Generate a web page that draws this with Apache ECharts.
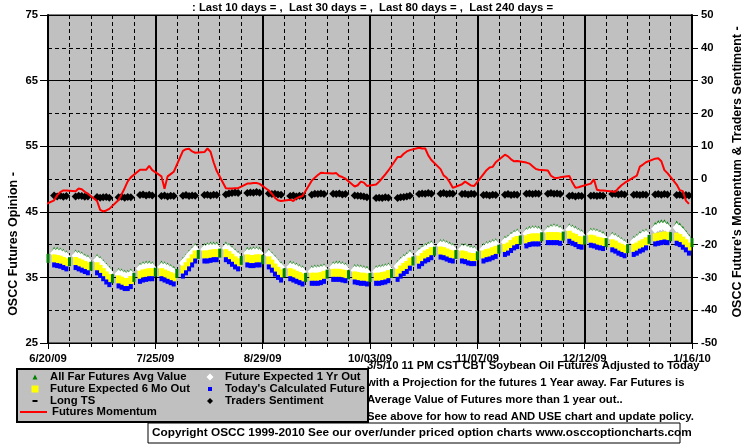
<!DOCTYPE html>
<html>
<head>
<meta charset="utf-8">
<script src="https://cdn.jsdelivr.net/npm/echarts/dist/echarts.min.js"></script>
<style>
html,body{margin:0;padding:0;background:#fff;}
#chart{width:755px;height:446px;}
</style>
</head>
<body>
<div id="chart"></div>
<script>
// ---------- tick labels / text ----------
const dateTickLabels = ['6/20/09', '7/25/09', '8/29/09', '10/03/09', '11/07/09', '12/12/09', '1/16/10'];
const titleText = ': Last 10 days = ,  Last 30 days = ,  Last 80 days = ,  Last 240 days =';
const noteLines = [
  '3/5/10 11 PM CST CBT Soybean Oil Futures Adjusted to Today',
  'with a Projection for the futures 1 Year away. Far Futures is',
  'Average Value of Futures more than 1 year out..',
  'See above for how to read AND USE chart and update policy.'
];
const copyrightText = 'Copyright OSCC 1999-2010 See our over/under priced option charts www.osccoptioncharts.com';

// ---------- series values (trading days Mon..Fri, 6/22/09 .. 1/15/10) ----------
const todaysCalculated = [
36.9,36.8,36.7,36.5,36.3, 36.5,36.3,36.1,35.9,35.7, 35.7,35.3,34.8,34.3,33.9, 33.7,33.5,33.3,33.3,33.6,
34.4,34.6,34.7,34.8,34.8, 34.8,34.6,34.4,34.2,34.0, 35.2,35.7,36.3,36.9,37.5, 37.5,37.5,37.6,37.7,37.7,
37.7,37.4,37.0,36.6,36.3, 36.9,36.8,36.8,36.9,36.9, 36.6,36.1,35.5,35.0,34.6, 34.8,34.6,34.4,34.2,34.0,
34.1,34.1,34.1,34.2,34.4, 34.7,34.7,34.7,34.6,34.5, 34.3,34.2,34.1,34.1,34.0, 34.1,34.1,34.2,34.3,34.5,
34.7,35.2,35.6,35.9,36.4, 36.7,37.1,37.5,37.7,38.0, 38.1,38.0,37.8,37.6,37.5, 37.5,37.4,37.2,37.1,37.1,
37.5,37.7,37.8,38.0,38.2, 38.5,38.7,39.1,39.5,39.7, 39.8,40.0,40.1,40.1,40.1, 40.3,40.3,40.3,40.3,40.2,
40.5,40.2,40.0,39.7,39.6, 39.9,39.8,39.6,39.5,39.4, 39.2,39.0,38.7,38.5,38.3, 38.5,38.7,39.0,39.2,39.5,
40.1,40.2,40.3,40.4,40.3, 40.2,40.0,39.6,39.2,38.7
];
const expected6Mo = [
37.9,37.8,37.7,37.5,37.3, 37.5,37.3,37.1,36.9,36.7, 36.7,36.3,35.8,35.3,34.9, 34.7,34.5,34.3,34.3,34.6,
35.4,35.6,35.7,35.8,35.8, 35.8,35.6,35.4,35.2,35.0, 36.2,36.7,37.3,37.9,38.5, 38.5,38.5,38.6,38.7,38.7,
38.7,38.4,38.0,37.6,37.3, 37.9,37.8,37.8,37.9,37.9, 37.6,37.1,36.5,36.0,35.6, 35.8,35.6,35.4,35.2,35.0,
35.1,35.1,35.1,35.2,35.4, 35.7,35.7,35.7,35.6,35.5, 35.3,35.2,35.1,35.1,35.0, 35.1,35.1,35.2,35.3,35.5,
35.7,36.2,36.6,36.9,37.4, 37.7,38.1,38.5,38.7,39.0, 39.1,39.0,38.8,38.6,38.5, 38.5,38.4,38.2,38.1,38.1,
38.5,38.7,38.8,39.0,39.2, 39.5,39.7,40.1,40.5,40.7, 40.8,41.0,41.1,41.1,41.1, 41.3,41.3,41.3,41.3,41.2,
41.5,41.2,41.0,40.7,40.6, 40.9,40.8,40.6,40.5,40.4, 40.2,40.0,39.7,39.5,39.3, 39.5,39.7,40.0,40.2,40.5,
41.1,41.2,41.3,41.4,41.3, 41.2,41.0,40.6,40.2,39.7
];
const expected1Yr = [
38.7,38.7,38.6,38.4,38.2, 38.3,38.2,38.0,37.7,37.5, 37.6,37.3,36.8,36.3,35.8, 35.5,35.4,35.2,35.2,35.4,
36.3,36.5,36.6,36.6,36.5, 36.6,36.5,36.3,36.1,35.8, 37.2,37.7,38.3,38.8,39.3, 39.3,39.4,39.5,39.5,39.5,
39.5,39.3,38.9,38.5,38.1, 38.7,38.7,38.8,38.8,38.7, 38.5,38.0,37.5,36.9,36.5, 36.6,36.5,36.3,36.1,35.9,
35.9,36.0,36.0,36.1,36.2, 36.5,36.6,36.6,36.5,36.3, 36.1,36.1,36.0,35.9,35.8, 35.9,36.0,36.1,36.2,36.3,
36.7,37.2,37.6,37.9,38.3, 38.6,39.0,39.3,39.5,39.7, 39.9,39.9,39.7,39.5,39.3, 39.3,39.3,39.1,39.0,38.9,
39.3,39.6,39.7,39.9,40.0, 40.4,40.6,41.0,41.3,41.5, 41.7,41.9,42.0,42.0,41.9, 42.0,42.2,42.3,42.2,42.0,
42.3,42.1,41.9,41.6,41.4, 41.6,41.6,41.5,41.3,41.1, 41.0,40.8,40.5,40.2,39.9, 40.4,40.7,41.1,41.4,41.5,
42.4,42.7,42.8,42.8,42.5, 42.6,42.3,41.8,41.2,40.6
];
const allFarAvg = [
39.2,39.2,39.1,38.9,38.7, 38.8,38.7,38.5,38.2,38.0, 38.1,37.8,37.3,36.8,36.3, 36.0,35.9,35.7,35.7,35.9,
36.8,37.0,37.1,37.1,37.0, 37.1,37.0,36.8,36.6,36.3, 37.7,38.2,38.8,39.3,39.8, 39.8,39.9,40.0,40.0,40.0,
40.0,39.8,39.4,39.0,38.6, 39.2,39.2,39.3,39.3,39.2, 39.0,38.5,38.0,37.4,37.0, 37.1,37.0,36.8,36.6,36.4,
36.4,36.5,36.5,36.6,36.7, 37.0,37.1,37.1,37.0,36.8, 36.6,36.6,36.5,36.4,36.3, 36.4,36.5,36.6,36.7,36.8,
37.2,37.7,38.1,38.4,38.8, 39.1,39.5,39.8,40.0,40.2, 40.4,40.4,40.2,40.0,39.8, 39.8,39.8,39.6,39.5,39.4,
39.8,40.1,40.2,40.4,40.5, 40.9,41.1,41.5,41.8,42.0, 42.2,42.4,42.5,42.5,42.4, 42.5,42.7,42.8,42.7,42.5,
42.8,42.6,42.4,42.1,41.9, 42.1,42.1,42.0,41.8,41.6, 41.5,41.3,41.0,40.7,40.4, 40.9,41.2,41.6,41.9,42.0,
43.0,43.3,43.4,43.4,43.1, 43.2,42.9,42.4,41.8,41.2
];
// Saturday markers of the far futures average (6/20/09 .. 1/16/10)
const allFarWeekend = [
37.9,37.4,36.7,34.8,35.0,35.8,35.6,38.5,38.7,37.6,37.7,35.7,35.0,35.5,35.4,35.0,
35.6,37.5,39.0,38.5,38.3,39.3,40.7,41.2,41.3,40.7,40.3,39.4,40.8,41.2,40.3
];
const tradersSentiment = [
-5.0,-5.3,-5.1,-5.4,-5.2, -5.3,-5.1,-5.2,-5.4,-5.3, -5.5,-5.7,-5.6,-5.5,-5.7, -5.6,-5.4,-5.7,-5.5,-5.6,
-4.9,-4.7,-5.0,-4.8,-5.0, -5.2,-5.0,-5.3,-5.1,-5.2, -5.1,-4.9,-5.2,-5.0,-5.1, -4.9,-4.8,-5.0,-4.8,-4.9,
-4.7,-4.4,-4.3,-4.1,-4.3, -4.3,-4.1,-4.2,-4.0,-4.2, -4.4,-4.6,-4.5,-4.7,-4.8, -5.2,-5.0,-5.3,-5.1,-5.2,
-4.8,-4.5,-4.6,-4.4,-4.6, -4.5,-4.6,-4.4,-4.7,-4.6, -5.0,-5.1,-5.2,-5.3,-5.6, -5.8,-5.7,-5.8,-5.6,-5.7,
-5.8,-5.6,-5.5,-5.3,-5.1, -4.6,-4.4,-4.5,-4.3,-4.5, -4.5,-4.3,-4.6,-4.4,-4.5, -4.6,-4.5,-4.7,-4.5,-4.6,
-4.9,-4.8,-5.0,-4.8,-4.9, -4.8,-4.6,-4.9,-4.7,-4.8, -4.5,-4.4,-4.6,-4.4,-4.5, -4.5,-4.3,-4.5,-4.4,-4.6,
-5.2,-5.0,-5.3,-5.1,-5.2, -5.1,-5.0,-5.2,-5.0,-5.1, -4.6,-4.5,-4.7,-4.6,-4.7, -4.8,-4.7,-4.9,-4.7,-4.8,
-4.7,-4.6,-4.8,-4.6,-4.7, -4.9,-4.8,-5.0,-4.9,-5.0
];
// Futures momentum: trading days from 6/19/09 (Fri) .. 1/15/10
const futuresMomentum = [
-7.8,
-6.5,-5.0,-4.0,-3.5,-3.5, -3.7,-2.9,-3.1,-3.9,-4.5, -6.7,-9.4,-9.9,-9.6,-9.1, -6.4,-4.7,-2.8,-0.7,0.5,
2.8,2.8,2.8,4.0,2.7, 0.8,-3.0,0.8,1.5,2.2, 8.6,9.1,9.2,8.4,8.0, 8.2,9.3,8.3,5.1,2.5,
-2.8,-2.9,-2.9,-2.8,-2.8, -1.4,-1.4,-1.2,-1.2,-1.5, -3.5,-4.5,-5.7,-6.5,-6.7, -6.3,-6.7,-5.9,-5.5,-5.2,
-0.5,0.4,1.2,1.9,1.8, 1.7,1.8,0.9,0.6,0.1, -2.3,-1.9,-0.8,-1.1,-2.1, -1.7,-0.8,0.3,1.4,2.6,
6.7,6.7,7.7,8.4,8.8, 9.5,9.3,9.3,7.2,5.8, 3.0,1.1,0.4,-1.0,-2.7, -1.6,-0.8,-1.4,-2.0,-2.1,
1.5,2.7,3.5,3.7,5.1, 7.4,6.9,6.0,5.4,5.5, 5.0,4.7,3.9,3.1,2.8, 2.6,1.0,0.4,0.3,0.5,
0.9,-1.1,-2.7,-2.5,-2.2, -1.4,-0.1,-3.3,-3.5,-3.5, -3.8,-3.9,-2.8,-1.9,-1.2, 0.5,1.0,3.8,4.4,5.1,
6.2,6.3,5.4,2.7,1.8, -1.7,-3.4,-3.7,-6.6,-7.6
];

// ---------- calendar (x = days since 6/20/09) ----------
const AXIS_START = Date.UTC(2009, 5, 20);
const DAY_MS = 86400000;
function calendarDays(y, m, d, count, keep) {
  const out = [];
  let t = Date.UTC(y, m, d);
  while (out.length < count) {
    const wd = new Date(t).getUTCDay();
    if (keep(wd)) out.push(Math.round((t - AXIS_START) / DAY_MS));
    t += DAY_MS;
  }
  return out;
}
const isWeekday = wd => wd !== 0 && wd !== 6;
const tradingDays = calendarDays(2009, 5, 22, todaysCalculated.length, isWeekday);
const momentumDays = calendarDays(2009, 5, 19, futuresMomentum.length, isWeekday);
const saturdays = calendarDays(2009, 5, 20, allFarWeekend.length, wd => wd === 6);
const pairs = (xs, vs) => vs.map((v, i) => [xs[i], v]);

// ---------- chart ----------
const FONT = 'Liberation Sans, Arial, Helvetica, sans-serif';
const FS = 11.3;
const txt = {fontFamily: FONT, fontSize: FS, fontWeight: 'bold', color: '#000'};
const chart = echarts.init(document.getElementById('chart'), null, {renderer: 'canvas'});

const scatterBase = {type: 'scatter', silent: true, emphasis: {disabled: true}, animation: false};

chart.setOption({
  animation: false,
  backgroundColor: '#ffffff',
  textStyle: {fontFamily: FONT},
  title: [
    {text: titleText, left: 192, top: 1, padding: 0,
     textStyle: Object.assign({}, txt, {lineHeight: 13})},
    {text: noteLines.join('\n'), left: 367, top: 357, padding: 0,
     textStyle: Object.assign({}, txt, {lineHeight: 17})}
  ],
  grid: {left: 48, right: 63, top: 15, bottom: 103, show: true,
         backgroundColor: '#c0c0c0', borderColor: '#000', borderWidth: 1,
         containLabel: false, outerBoundsMode: 'none'},
  xAxis: [
    {type: 'value', min: 0, max: 210, interval: 7, position: 'bottom',
     axisLine: {show: true, onZero: false, lineStyle: {color: '#000', width: 1}},
     axisTick: {show: true, length: 4, lineStyle: {color: '#000', width: 1}},
     axisLabel: {show: false},
     splitLine: {show: true, lineStyle: {color: '#000', width: 1, type: [4, 3]}}},
    {type: 'value', min: 0, max: 210, interval: 35, position: 'bottom',
     axisLine: {show: false, onZero: false},
     axisTick: {show: true, length: 6, lineStyle: {color: '#000', width: 1}},
     axisLabel: Object.assign({show: true, margin: 10, showMinLabel: true, showMaxLabel: true, hideOverlap: false,
       formatter: v => dateTickLabels[Math.round(v / 35)] || ''}, txt),
     splitLine: {show: true, lineStyle: {color: '#000', width: 2}}}
  ],
  yAxis: [
    {type: 'value', min: 25, max: 75, interval: 5, position: 'left',
     axisLine: {show: true, onZero: false, lineStyle: {color: '#000', width: 2}},
     axisTick: {show: false},
     axisLabel: Object.assign({margin: 10, showMinLabel: true, showMaxLabel: true,
       formatter: v => ((v - 25) % 10 === 0 ? String(v) : '')}, txt),
     splitLine: {show: false}},
    {type: 'value', min: -50, max: 50, interval: 10, position: 'right',
     axisLine: {show: true, onZero: false, lineStyle: {color: '#000', width: 2}},
     axisTick: {show: true, length: 6, lineStyle: {color: '#000', width: 1}},
     axisLabel: Object.assign({margin: 9, showMinLabel: true, showMaxLabel: true}, txt),
     splitLine: {show: true, lineStyle: {color: '#000', width: 1, type: [4, 3]}}},
    {type: 'value', min: 0, max: 100, interval: 20, position: 'left',
     axisLine: {show: false, onZero: false},
     axisTick: {show: true, length: 8, lineStyle: {color: '#000', width: 1}},
     axisLabel: {show: false},
     splitLine: {show: true, lineStyle: {color: '#000', width: 1}}}
  ],
  legend: [
    {orient: 'vertical', left: 25, top: 371, itemWidth: 20, itemHeight: 8, itemGap: 0, padding: 0,
     selectedMode: false, textStyle: Object.assign({lineHeight: 12}, txt),
     data: [
       {name: 'All Far Futures Avg Value', icon: 'path://M0,0L0,0M10,1.5L12.5,6.5L7.5,6.5ZM20,8L20,8'},
       {name: 'Future Expected 6 Mo Out', icon: 'path://M0,0L0,0M6.5,0.5L13.5,0.5L13.5,7.5L6.5,7.5ZM20,8L20,8'},
       {name: 'Long TS', icon: 'path://M0,0L0,0M7.5,3L12.5,3L12.5,5L7.5,5ZM20,8L20,8'}
     ]},
    {orient: 'vertical', left: 20, top: 406, itemWidth: 27, itemHeight: 8, itemGap: 0, padding: 0,
     selectedMode: false, textStyle: Object.assign({lineHeight: 12}, txt),
     data: [{name: 'Futures Momentum', icon: 'path://M0,0L0,0M0,3L27,3L27,5L0,5ZM27,8L27,8'}]},
    {orient: 'vertical', left: 200, top: 371, itemWidth: 20, itemHeight: 8, itemGap: 0, padding: 0,
     selectedMode: false, textStyle: Object.assign({lineHeight: 12}, txt),
     data: [
       {name: 'Future Expected 1 Yr Out', icon: 'path://M0,0L0,0M10,0.5L13.5,4L10,7.5L6.5,4ZM20,8L20,8'},
       {name: "Today's Calculated Future", icon: 'path://M0,0L0,0M8,2L12,2L12,6L8,6ZM20,8L20,8'},
       {name: 'Traders Sentiment', icon: 'path://M0,0L0,0M10,1L13,4L10,7L7,4ZM20,8L20,8'}
     ]}
  ],
  graphic: [
    {type: 'rect', z: 0, shape: {x: 17, y: 369, width: 351, height: 53},
     style: {fill: '#c0c0c0', stroke: '#000', lineWidth: 2}},
    {type: 'rect', z: 0, shape: {x: 148, y: 423, width: 532, height: 20},
     style: {fill: '#fff', stroke: '#000', lineWidth: 1}},
    {type: 'text', z: 5, x: 152, y: 433,
     style: {text: copyrightText, fontFamily: FONT, fontSize: 11.8, fontWeight: 'bold', fill: '#000',
             textVerticalAlign: 'middle', verticalAlign: 'middle'}},
    {type: 'text', z: 5, x: 14, y: 244, rotation: Math.PI / 2,
     style: {text: 'OSCC Futures Opinion -', fontFamily: FONT, fontSize: 12.5, fontWeight: 'bold', fill: '#000',
             textAlign: 'center', align: 'center', textVerticalAlign: 'middle', verticalAlign: 'middle'}},
    {type: 'text', z: 5, x: 738, y: 172, rotation: Math.PI / 2,
     style: {text: "OSCC Future's Momentum & Traders Sentiment -", fontFamily: FONT, fontSize: 12.5, fontWeight: 'bold', fill: '#000',
             textAlign: 'center', align: 'center', textVerticalAlign: 'middle', verticalAlign: 'middle'}}
  ],
  series: [
    Object.assign({}, scatterBase, {name: 'All Far Futures Avg Value', xAxisIndex: 0, yAxisIndex: 0,
      symbol: 'triangle', symbolSize: [6, 6], itemStyle: {color: '#008000', opacity: 1},
      data: pairs(tradingDays, allFarAvg)}),
    Object.assign({}, scatterBase, {name: 'Future Expected 1 Yr Out', xAxisIndex: 0, yAxisIndex: 0,
      symbol: 'diamond', symbolSize: [8, 10], itemStyle: {color: '#ffffff', opacity: 1},
      data: pairs(tradingDays, expected1Yr)}),
    Object.assign({}, scatterBase, {name: 'Future Expected 6 Mo Out', xAxisIndex: 0, yAxisIndex: 0,
      symbol: 'rect', symbolSize: [5, 8], itemStyle: {color: '#ffff00', opacity: 1},
      data: pairs(tradingDays, expected6Mo)}),
    Object.assign({}, scatterBase, {name: "Today's Calculated Future", xAxisIndex: 0, yAxisIndex: 0,
      symbol: 'rect', symbolSize: [4, 5], itemStyle: {color: '#0000ff', opacity: 1},
      data: pairs(tradingDays, todaysCalculated)}),
    Object.assign({}, scatterBase, {name: 'All Far Futures Avg Value', xAxisIndex: 0, yAxisIndex: 0,
      symbol: 'rect', symbolSize: [3, 9], itemStyle: {color: '#008000', opacity: 1},
      data: pairs(saturdays, allFarWeekend)}),
    Object.assign({}, scatterBase, {name: 'Long TS', xAxisIndex: 0, yAxisIndex: 0,
      symbol: 'rect', symbolSize: [5, 2], itemStyle: {color: '#000', opacity: 1}, data: []}),
    Object.assign({}, scatterBase, {name: 'Traders Sentiment', xAxisIndex: 0, yAxisIndex: 1,
      symbol: 'diamond', symbolSize: [8, 8], itemStyle: {color: '#000', opacity: 1},
      data: pairs(tradingDays, tradersSentiment)}),
    {type: 'line', name: 'Futures Momentum', xAxisIndex: 0, yAxisIndex: 1, silent: true,
     symbol: 'none', showSymbol: false, clip: true, animation: false,
     lineStyle: {color: '#ff0000', width: 2}, itemStyle: {color: '#ff0000'},
     emphasis: {disabled: true},
     data: pairs(momentumDays, futuresMomentum)}
  ]
});
</script>
</body>
</html>
